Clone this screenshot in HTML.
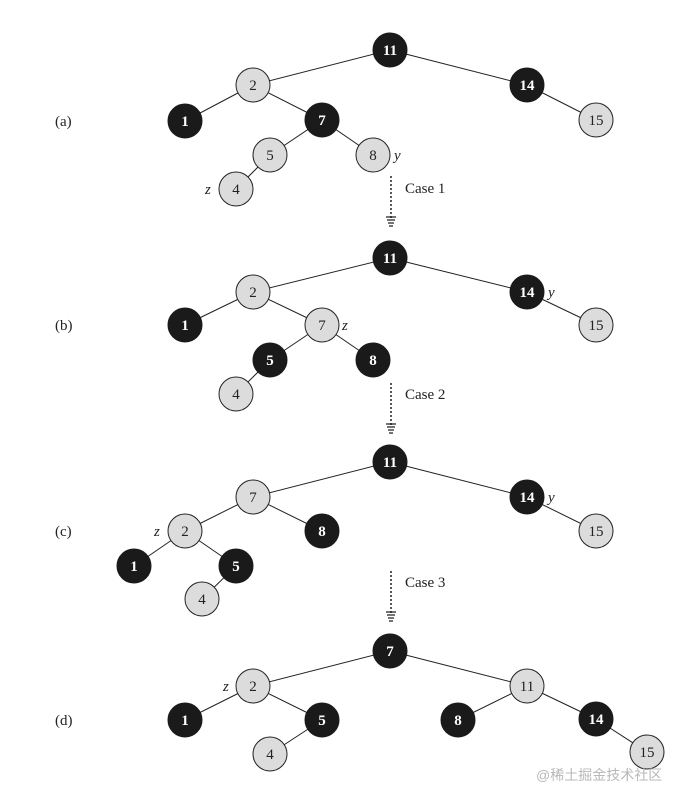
<!DOCTYPE html>
<html><head><meta charset="utf-8"><style>
html,body{margin:0;padding:0;background:#fff;width:687px;height:803px;overflow:hidden}
svg text{font-family:"Liberation Serif",serif}
</style></head><body>
<svg width="687" height="803" viewBox="0 0 687 803" xmlns="http://www.w3.org/2000/svg">
<defs>
<g id="ah"><path d="M-5,0 L5,0 M-4,3 L4,3 M-3,6 L3,6 M-2,9 L2,9" stroke="#222" stroke-width="1.2"/></g>
</defs>
<g stroke="#222" stroke-width="1">
<!-- a -->
<line x1="390" y1="50" x2="253" y2="85"/><line x1="390" y1="50" x2="527" y2="85"/>
<line x1="253" y1="85" x2="185" y2="121"/><line x1="253" y1="85" x2="322" y2="120"/>
<line x1="527" y1="85" x2="596" y2="120"/>
<line x1="322" y1="120" x2="270" y2="155"/><line x1="322" y1="120" x2="373" y2="155"/>
<line x1="270" y1="155" x2="236" y2="189"/>
<!-- b -->
<line x1="390" y1="258" x2="253" y2="292"/><line x1="390" y1="258" x2="527" y2="292"/>
<line x1="253" y1="292" x2="185" y2="325"/><line x1="253" y1="292" x2="322" y2="325"/>
<line x1="527" y1="292" x2="596" y2="325"/>
<line x1="322" y1="325" x2="270" y2="360"/><line x1="322" y1="325" x2="373" y2="360"/>
<line x1="270" y1="360" x2="236" y2="394"/>
<!-- c -->
<line x1="390" y1="462" x2="253" y2="497"/><line x1="390" y1="462" x2="527" y2="497"/>
<line x1="253" y1="497" x2="185" y2="531"/><line x1="253" y1="497" x2="322" y2="531"/>
<line x1="527" y1="497" x2="596" y2="531"/>
<line x1="185" y1="531" x2="134" y2="566"/><line x1="185" y1="531" x2="236" y2="566"/>
<line x1="236" y1="566" x2="202" y2="599"/>
<!-- d -->
<line x1="390" y1="651" x2="253" y2="686"/><line x1="390" y1="651" x2="527" y2="686"/>
<line x1="253" y1="686" x2="185" y2="720"/><line x1="253" y1="686" x2="322" y2="720"/>
<line x1="527" y1="686" x2="458" y2="720"/><line x1="527" y1="686" x2="596" y2="719"/>
<line x1="253" y1="686" x2="270" y2="754" stroke="none"/>
<line x1="322" y1="720" x2="270" y2="754"/>
<line x1="596" y1="719" x2="647" y2="752"/>
</g>
<!-- arrows -->
<g stroke="#222" stroke-width="1.5" stroke-dasharray="2,2">
<line x1="391" y1="176" x2="391" y2="218"/>
<line x1="391" y1="383" x2="391" y2="425"/>
<line x1="391" y1="571" x2="391" y2="613"/>
</g>
<use href="#ah" x="391" y="217"/><use href="#ah" x="391" y="424"/><use href="#ah" x="391" y="612"/>
<g font-size="15" fill="#222">
<text x="405" y="193">Case 1</text><text x="405" y="399">Case 2</text><text x="405" y="587">Case 3</text>
<text x="55" y="126">(a)</text><text x="55" y="330">(b)</text><text x="55" y="536">(c)</text><text x="55" y="725">(d)</text>
</g>
<g font-size="15" font-style="italic" fill="#222">
<text x="394" y="160">y</text><text x="205" y="194">z</text>
<text x="548" y="297">y</text><text x="342" y="330">z</text>
<text x="548" y="502">y</text><text x="154" y="536">z</text>
<text x="223" y="691">z</text>
</g>
<g id="nodes" font-size="15" text-anchor="middle">
<!-- black nodes -->
<g fill="#1a1a1a" stroke="#1a1a1a">
<circle cx="390" cy="50" r="17"/><circle cx="527" cy="85" r="17"/><circle cx="185" cy="121" r="17"/><circle cx="322" cy="120" r="17"/>
<circle cx="390" cy="258" r="17"/><circle cx="527" cy="292" r="17"/><circle cx="185" cy="325" r="17"/><circle cx="270" cy="360" r="17"/><circle cx="373" cy="360" r="17"/>
<circle cx="390" cy="462" r="17"/><circle cx="527" cy="497" r="17"/><circle cx="322" cy="531" r="17"/><circle cx="134" cy="566" r="17"/><circle cx="236" cy="566" r="17"/>
<circle cx="390" cy="651" r="17"/><circle cx="185" cy="720" r="17"/><circle cx="322" cy="720" r="17"/><circle cx="458" cy="720" r="17"/><circle cx="596" cy="719" r="17"/>
</g>
<g fill="#dcdcdc" stroke="#222" stroke-width="1">
<circle cx="253" cy="85" r="17"/><circle cx="596" cy="120" r="17"/><circle cx="270" cy="155" r="17"/><circle cx="373" cy="155" r="17"/><circle cx="236" cy="189" r="17"/>
<circle cx="253" cy="292" r="17"/><circle cx="322" cy="325" r="17"/><circle cx="596" cy="325" r="17"/><circle cx="236" cy="394" r="17"/>
<circle cx="253" cy="497" r="17"/><circle cx="185" cy="531" r="17"/><circle cx="596" cy="531" r="17"/><circle cx="202" cy="599" r="17"/>
<circle cx="253" cy="686" r="17"/><circle cx="527" cy="686" r="17"/><circle cx="270" cy="754" r="17"/><circle cx="647" cy="752" r="17"/>
</g>
<g fill="#fff" font-weight="bold">
<text x="390" y="55">11</text><text x="527" y="90">14</text><text x="185" y="126">1</text><text x="322" y="125">7</text>
<text x="390" y="263">11</text><text x="527" y="297">14</text><text x="185" y="330">1</text><text x="270" y="365">5</text><text x="373" y="365">8</text>
<text x="390" y="467">11</text><text x="527" y="502">14</text><text x="322" y="536">8</text><text x="134" y="571">1</text><text x="236" y="571">5</text>
<text x="390" y="656">7</text><text x="185" y="725">1</text><text x="322" y="725">5</text><text x="458" y="725">8</text><text x="596" y="724">14</text>
</g>
<g fill="#222">
<text x="253" y="90">2</text><text x="596" y="125">15</text><text x="270" y="160">5</text><text x="373" y="160">8</text><text x="236" y="194">4</text>
<text x="253" y="297">2</text><text x="322" y="330">7</text><text x="596" y="330">15</text><text x="236" y="399">4</text>
<text x="253" y="502">7</text><text x="185" y="536">2</text><text x="596" y="536">15</text><text x="202" y="604">4</text>
<text x="253" y="691">2</text><text x="527" y="691">11</text><text x="270" y="759">4</text><text x="647" y="757">15</text>
</g>
</g>
<text x="536" y="780" font-size="14" fill="#b8b8b8" style="font-family:'Liberation Sans','Noto Sans CJK SC',sans-serif">@稀土掘金技术社区</text>
</svg>
</body></html>
